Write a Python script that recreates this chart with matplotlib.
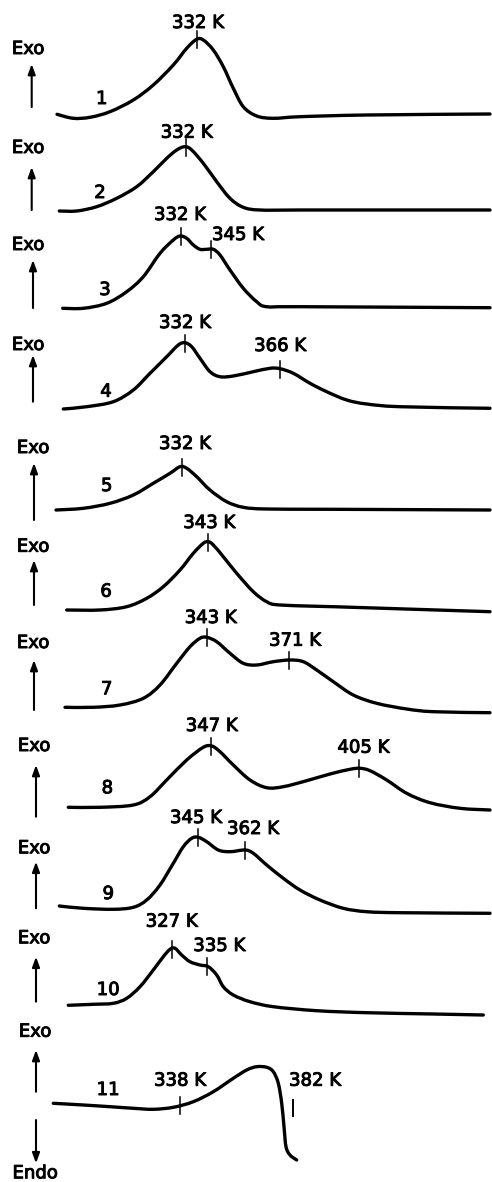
import matplotlib
matplotlib.use("Agg")
import matplotlib.pyplot as plt
import matplotlib.patheffects as pe
from matplotlib.path import Path
from matplotlib.patches import PathPatch
import numpy as np

# ---- curve data (horizontal position, vertical signal position; y grows downward) ----
c1_x = [57, 73.3, 90, 110, 133.3, 153.3, 173.3, 186.7, 196.7, 203.3, 213.3, 223.3, 233.3, 243.3, 256.7, 273.3, 300, 366.7, 490]
c1_y = [114.3, 118.3, 117.3, 111.7, 100, 85, 65, 48.3, 39.3, 40, 50, 66.7, 88.3, 106.7, 116, 118.3, 116.7, 115, 114]

c2_x = [59.3, 76.7, 96.7, 116.7, 136.7, 153.3, 166.7, 176.7, 185, 191.7, 203.3, 216.7, 230, 243.3, 260, 300, 490]
c2_y = [211, 211, 206.7, 198.3, 186.7, 171.7, 158.3, 150, 146.7, 150, 163.3, 181.7, 198.3, 207.3, 210, 210, 210]

c3_x = [62.7, 83.3, 106.7, 126.7, 143.3, 160, 173.3, 180, 186.7, 193.3, 200, 206.7, 213.3, 220, 230, 243.3, 256.7, 266.7, 300, 490]
c3_y = [308.3, 308.3, 303.3, 291.7, 276.7, 253.3, 240, 236, 238.3, 245, 249.3, 249.3, 249.3, 255, 270, 288.3, 301.7, 306.7, 306.7, 307.7]

c4_x = [63.3, 86.7, 113.3, 133.3, 150, 166.7, 178.3, 185, 191.7, 200, 210, 220, 233.3, 253.3, 270, 280, 293.3, 310, 326.7, 346.7, 366.7, 400, 490]
c4_y = [409, 406.7, 401.7, 390, 373.3, 356.7, 345, 342.7, 346.7, 358.3, 371.7, 376.7, 376, 371.7, 368.3, 368.7, 373.3, 383.3, 391.7, 400, 404, 406.7, 408.3]

c5_x = [56, 83.3, 110, 133.3, 153.3, 170, 180, 186.7, 196.7, 210, 226.7, 243.3, 266.7, 333.3, 490]
c5_y = [510, 508.3, 503.3, 495, 483.3, 473.3, 466.7, 468.3, 476.7, 490, 501.7, 507.3, 509, 509.3, 510]

c6_x = [66.7, 100, 126.7, 146.7, 163.3, 180, 193.3, 203.3, 208.3, 213.3, 223.3, 236.7, 253.3, 266.7, 280, 333.3, 490]
c6_y = [610, 610, 606.7, 598.3, 586.7, 570, 553.3, 543.3, 541.7, 545, 556.7, 573.3, 591.7, 601.7, 605, 606.7, 611.7]

c7_x = [65, 93.3, 120, 143.3, 160, 176.7, 190, 200, 206.7, 216.7, 230, 243.3, 256.7, 273.3, 290, 303.3, 316.7, 333.3, 353.3, 376.7, 406.7, 433.3, 490]
c7_y = [707.3, 707.3, 705, 698.3, 685, 663.3, 646.7, 638.3, 637.3, 641.7, 653.3, 663.3, 665, 661.7, 660, 661.7, 670, 681.7, 695, 703.3, 709, 711.7, 712.7]

c8_x = [68.3, 100, 133.3, 150, 166.7, 186.7, 203.3, 211.7, 220, 233.3, 250, 266.7, 283.3, 306.7, 330, 350, 360, 370, 386.7, 406.7, 430, 460, 490]
c8_y = [807.3, 807.3, 805, 796.7, 780, 760, 747.3, 746, 751.7, 765, 780, 787.7, 786.7, 780.7, 774, 769.3, 768.3, 770.7, 780, 793.3, 802.7, 808.3, 810]

c9_x = [59.3, 83.3, 113.3, 133.3, 146.7, 160, 173.3, 183.3, 191.7, 198.3, 206.7, 218.3, 230, 245, 253.3, 266.7, 283.3, 300, 320, 343.3, 366.7, 400, 490]
c9_y = [906, 908.3, 909.3, 907.3, 900, 885, 863.3, 846.7, 838.3, 837.3, 841.7, 850, 851.7, 850, 853.3, 865, 878.3, 890, 900, 908.3, 911.7, 912.7, 913.3]

c10_x = [68.3, 93.3, 113.3, 126.7, 140, 153.3, 163.3, 170, 175, 181.7, 190, 200, 208.3, 216.7, 223.3, 233.3, 250, 273.3, 316.7, 366.7, 433.3, 483.3]
c10_y = [1005.3, 1004.3, 1003.3, 998.3, 986.7, 970, 956.7, 949.3, 948.3, 955, 961.7, 965, 966.7, 975, 986.7, 995, 1001.7, 1006.7, 1010.7, 1012.7, 1014, 1015]

c11_x = [53.3, 83.3, 110, 133.3, 153.3, 173.3, 193.3, 213.3, 233.3, 246.7, 256.7, 266.7, 273.3, 278.3, 281.7, 284, 286, 290, 296.7]
c11_y = [1103.3, 1105, 1106.7, 1108.3, 1109.3, 1107.3, 1101.7, 1091.7, 1078.3, 1070, 1066.7, 1067.3, 1071.7, 1083.3, 1103.3, 1126.7, 1146.7, 1155, 1160]

curves_x = [c1_x, c2_x, c3_x, c4_x, c5_x, c6_x, c7_x, c8_x, c9_x, c10_x, c11_x]
curves_y = [c1_y, c2_y, c3_y, c4_y, c5_y, c6_y, c7_y, c8_y, c9_y, c10_y, c11_y]
curve_names = ["1", "2", "3", "4", "5", "6", "7", "8", "9", "10", "11"]

# ---- peak markers: (curve index, marker x, label) ----
peak_curve = [0, 1, 2, 2, 3, 3, 4, 5, 6, 6, 7, 7, 8, 8, 9, 9, 10]
peak_x = [197, 185.7, 181, 211, 185, 280, 181.7, 208.3, 206.7, 289.3, 211, 359.3, 197.7, 245, 172.3, 206.7, 180]
peak_label = ["332 K", "332 K", "332 K", "345 K", "332 K", "366 K", "332 K", "343 K",
              "343 K", "371 K", "347 K", "405 K", "345 K", "362 K", "327 K", "335 K", "338 K"]

# ---- layout (label text positions) ----
label_pos = [(198, 23), (186.7, 132.7), (180, 215), (238, 235), (185, 323), (280, 346),
             (185, 444), (209.3, 523), (210.7, 618), (295, 640.7), (211.7, 726), (363.3, 747.7),
             (196, 818), (253, 829), (171.7, 921.7), (219.3, 946), (180, 1080.7)]
name_pos = [(101.7, 99), (100, 193), (105, 290), (106, 391.7), (106.7, 486), (106, 591.7),
            (106.7, 689.3), (107.3, 788.3), (108.3, 894), (108, 990), (108, 1090)]
exo_pos = [(28, 49), (28, 148), (28, 245), (28, 345), (33, 448), (33, 546.7),
           (33, 643), (34, 746), (34, 848.3), (34, 938.3), (35, 1031.7)]
arrow_x = [31.7, 31.7, 33, 33, 34, 34, 34, 36, 36, 36, 36]
arrow_y0 = [107, 210, 308, 401.7, 520, 605, 710, 816.7, 908.3, 1001.7, 1091.7]
arrow_y1 = [64, 167, 260, 355, 463, 560, 660, 765, 861.7, 956.7, 1050]

W, H = 492, 1182
fig = plt.figure(figsize=(W / 100, H / 100), dpi=100)
ax = fig.add_axes([0, 0, 1, 1])
ax.set_xlim(0, W)
ax.set_ylim(H, 0)
ax.axis("off")

FS = 13
lw_curve = 2.4
TXT = dict(ha="center", va="center", fontsize=FS, family="DejaVu Sans",
           path_effects=[pe.withStroke(linewidth=0.7, foreground="black")])


def smooth_path(xs, ys):
    """Catmull-Rom curve through the read points, drawn as cubic Bezier segments."""
    p = np.column_stack([xs, ys]).astype(float)
    n = len(p)
    verts = [p[0]]
    codes = [Path.MOVETO]
    for i in range(n - 1):
        p0 = p[i - 1] if i > 0 else p[i]
        p1 = p[i]
        p2 = p[i + 1]
        p3 = p[i + 2] if i + 2 < n else p[i + 1]
        c1 = p1 + (p2 - p0) / 6.0
        c2 = p2 - (p3 - p1) / 6.0
        verts += [c1, c2, p2]
        codes += [Path.CURVE4] * 3
    return Path(verts, codes)


for xs, ys in zip(curves_x, curves_y):
    ax.add_patch(PathPatch(smooth_path(xs, ys), fill=False, edgecolor="black",
                           lw=lw_curve, capstyle="round", joinstyle="round"))

for ci, px, lab, (lx, ly) in zip(peak_curve, peak_x, peak_label, label_pos):
    cy = np.interp(px, curves_x[ci], curves_y[ci])
    ax.plot([px, px], [cy - 8, cy + 9], color="black", lw=1.1)
    ax.text(lx, ly, lab, **TXT)

# vertical bar for 382 K on curve 11
ax.plot([292.7, 292.7], [1100, 1116], color="black", lw=1.4)
ax.text(315, 1080.7, "382 K", **TXT)

for name, (nx, ny) in zip(curve_names, name_pos):
    ax.text(nx, ny, name, **TXT)

for (ex, ey) in exo_pos:
    ax.text(ex, ey, "Exo", **TXT)

for axx, y0, y1 in zip(arrow_x, arrow_y0, arrow_y1):
    ax.annotate("", xy=(axx, y1), xytext=(axx, y0),
                arrowprops=dict(arrowstyle="-|>,head_length=0.6,head_width=0.22",
                                color="black", lw=1.5, shrinkA=0, shrinkB=0))

# Endo arrow
ax.annotate("", xy=(36, 1163.3), xytext=(36, 1120),
            arrowprops=dict(arrowstyle="-|>,head_length=0.6,head_width=0.22",
                            color="black", lw=1.5, shrinkA=0, shrinkB=0))
ax.text(35, 1173.3, "Endo", **TXT)

fig.savefig("out.png", dpi=100, facecolor="white")
